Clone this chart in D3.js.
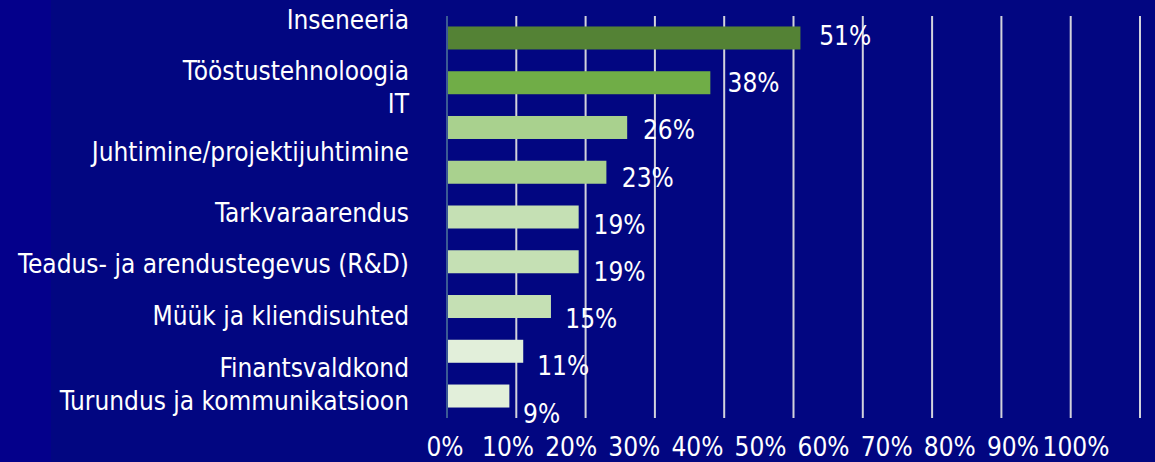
<!DOCTYPE html>
<html>
<head>
<meta charset="utf-8">
<script src="https://cdn.jsdelivr.net/npm/d3@7"></script>
<style>
  html, body { margin: 0; padding: 0; background: #020681; }
  svg text { font-family: 'DejaVu Sans Condensed', 'DejaVu Sans', sans-serif; font-stretch: condensed; fill: #ffffff; }
</style>
</head>
<body>
<div id="chart"></div>
<script>
// Bar chart - field of work shares, dark navy slide style
const categories = ['Inseneeria', 'Tööstustehnoloogia', 'IT', 'Juhtimine/projektijuhtimine', 'Tarkvaraarendus',
  'Teadus- ja arendustegevus (R&D)', 'Müük ja kliendisuhted', 'Finantsvaldkond', 'Turundus ja kommunikatsioon'];
const values = [51, 38, 26, 23, 19, 19, 15, 11, 9];
const xTicks = [0, 10, 20, 30, 40, 50, 60, 70, 80, 90, 100];

// styling, kept apart from the data
const barColors = ['#548235', '#70AD47', '#A9D18E', '#A9D18E', '#C5E0B4', '#C5E0B4', '#C5E0B4', '#E2EFDA', '#E2EFDA'];
const labelNudge = [-9, -2.7, -14.3, -11, 5.3, 11.6, 18, 25.3, 13.6];  // category labels sit a little off their bars

const W = 1155, H = 462;
const svg = d3.select('#chart').append('svg')
  .attr('width', W).attr('height', H);

svg.append('rect').attr('width', W).attr('height', H).attr('fill', '#020681');
svg.append('rect').attr('width', 51).attr('height', H).attr('fill', '#04008b');

const x = d3.scaleLinear().domain([0, 100]).range([447, 1140]);
const xLabel = d3.scaleLinear().domain([0, 100]).range([445, 1076]);   // tick text runs on a tighter spacing
const xValue = d3.scaleLinear().domain([0, 100]).range([459.6, 1164.6]); // value text start
const y = d3.scaleBand().domain(categories).range([16, 418]).paddingInner(0.486).paddingOuter(0.234);
const yValue = d3.scalePoint().domain(categories).range([45, 422.7]);

// vertical gridlines
svg.append('g')
  .selectAll('line')
  .data(xTicks.filter(d => d > 0))
  .join('line')
  .attr('x1', d => x(d)).attr('x2', d => x(d))
  .attr('y1', 16).attr('y2', 418)
  .attr('stroke', '#d2d2dc')
  .attr('stroke-width', 2);

// bars
svg.append('g')
  .selectAll('rect')
  .data(values)
  .join('rect')
  .attr('x', x(0) + 1)
  .attr('y', (d, i) => y(categories[i]))
  .attr('width', d => x(d) - x(0) - 1)
  .attr('height', y.bandwidth())
  .attr('fill', (d, i) => barColors[i]);

// category axis line
svg.append('line')
  .attr('x1', x(0)).attr('x2', x(0))
  .attr('y1', 16).attr('y2', 418)
  .attr('stroke', '#3b5a94')
  .attr('stroke-width', 2);

// category labels
svg.append('g')
  .selectAll('text')
  .data(categories)
  .join('text')
  .attr('x', 409)
  .attr('y', (d, i) => y(d) + y.bandwidth() / 2 + labelNudge[i])
  .attr('text-anchor', 'end')
  .attr('font-size', 26)
  .text(d => d);

// value labels
svg.append('g')
  .selectAll('text')
  .data(values)
  .join('text')
  .attr('x', d => xValue(d))
  .attr('y', (d, i) => yValue(categories[i]))
  .attr('font-size', 26)
  .text(d => d + '%');

// x tick labels
svg.append('g')
  .selectAll('text')
  .data(xTicks)
  .join('text')
  .attr('x', d => xLabel(d))
  .attr('y', 456)
  .attr('text-anchor', 'middle')
  .attr('font-size', 26)
  .text(d => d + '%');
</script>
</body>
</html>
